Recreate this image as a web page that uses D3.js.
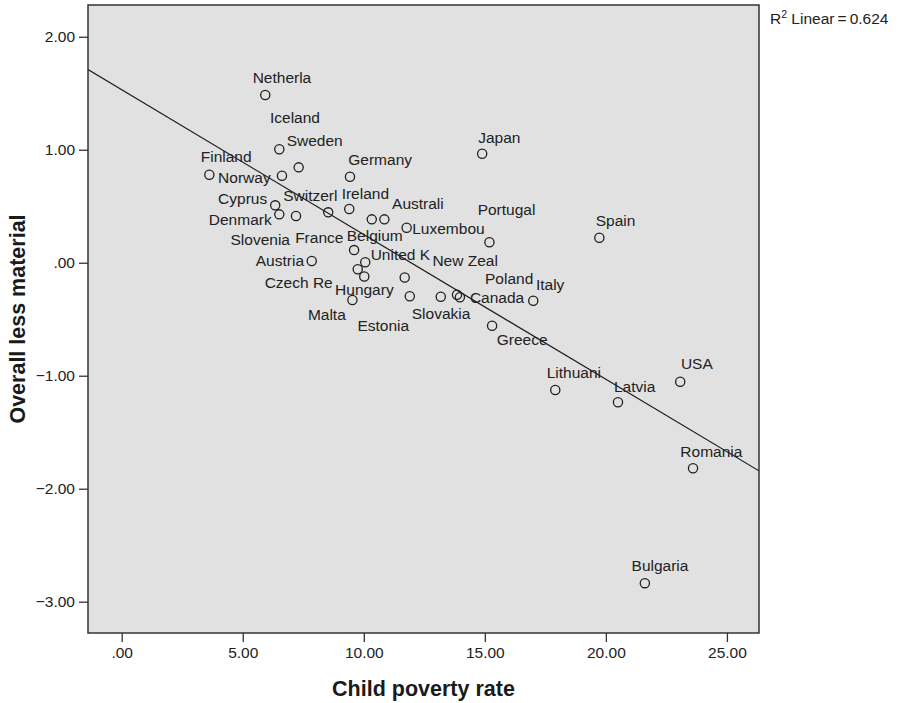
<!DOCTYPE html>
<html>
<head>
<meta charset="utf-8">
<script src="https://cdn.jsdelivr.net/npm/d3@7"></script>
<style>
  html, body { margin: 0; padding: 0; background: #fff; }
  svg { display: block; font-family: "Liberation Sans", Arial, Helvetica, sans-serif; }
</style>
</head>
<body>
<svg id="chart" width="898" height="703"></svg>
<script>
// Country labels (truncated to 8 characters as in the source table)
const countries = [
  "Netherla", "Iceland", "Sweden", "Finland", "Norway", "Germany", "Cyprus",
  "Denmark", "Slovenia", "Switzerl", "Ireland", "Belgium", "Australi", "Luxembou",
  "France", "Austria", "United K", "Czech Re", "Hungary", "New Zeal", "Malta",
  "Estonia", "Slovakia", "Poland", "Canada", "Japan", "Portugal", "Spain",
  "Italy", "Greece", "Lithuani", "Latvia", "USA", "Romania", "Bulgaria"
];
// Child poverty rate (%)
const povertyRate = [
  5.93, 6.51, 7.31, 3.62, 6.62, 9.43, 6.34,
  6.51, 7.20, 8.53, 9.40, 10.33, 10.85, 11.77,
  9.60, 7.85, 10.06, 9.75, 10.02, 11.69, 9.53,
  11.90, 13.18, 13.85, 13.97, 14.89, 15.19, 19.73,
  17.00, 15.30, 17.91, 20.50, 23.07, 23.60, 21.61
];
// Overall less material (standardised score)
const lessMaterial = [
  1.484, 1.004, 0.844, 0.779, 0.770, 0.761, 0.508,
  0.428, 0.413, 0.446, 0.475, 0.384, 0.384, 0.310,
  0.112, 0.015, 0.004, -0.058, -0.122, -0.131, -0.330,
  -0.297, -0.301, -0.283, -0.306, 0.965, 0.181, 0.221,
  -0.337, -0.558, -1.127, -1.235, -1.053, -1.819, -2.836
];
const xTickValues = [0, 5, 10, 15, 20, 25];
const xTickLabels = [".00", "5.00", "10.00", "15.00", "20.00", "25.00"];
const yTickValues = [2, 1, 0, -1, -2, -3];
const yTickLabels = ["2.00", "1.00", ".00", "\u22121.00", "\u22122.00", "\u22123.00"];
const rSquaredText = "0.624";

// Label placement around each marker: [dx, dy, anchor]
const labelLayout = {
  "Netherla": [-12.6, -17.3, "start"], "Iceland": [-9.3, -31.6, "start"],
  "Sweden": [-12, -26.3, "start"], "Finland": [-8.6, -18, "start"],
  "Norway": [-11.3, 2, "end"], "Germany": [-1.7, -16.7, "start"],
  "Cyprus": [-8, -6.6, "end"], "Denmark": [-7.6, 5, "end"],
  "Slovenia": [-6, 24, "end"], "Switzerl": [-45, -16.3, "start"],
  "Ireland": [-7.6, -15, "start"], "Belgium": [-25, 16, "start"],
  "Australi": [7.7, -15.3, "start"], "Luxembou": [5.6, 1.3, "start"],
  "France": [-10.7, -12.3, "end"], "Austria": [-7.7, 0, "end"],
  "United K": [5.4, -7.3, "start"], "Czech Re": [-25, 13.1, "end"],
  "Hungary": [-29.2, 13.5, "start"], "New Zeal": [27.7, -16.5, "start"],
  "Malta": [-6.6, 15, "end"], "Estonia": [-52.4, 29.4, "start"],
  "Slovakia": [-29, 17.3, "start"], "Poland": [28, -16.4, "start"],
  "Canada": [10, 0.4, "start"], "Japan": [-4, -16, "start"],
  "Portugal": [-11.8, -32.3, "start"], "Spain": [-3.6, -17, "start"],
  "Italy": [2.7, -15.8, "start"], "Greece": [4.7, 13.3, "start"],
  "Lithuani": [-8.6, -17, "start"], "Latvia": [-4, -15.6, "start"],
  "USA": [0.7, -18.4, "start"], "Romania": [-12.7, -16.6, "start"],
  "Bulgaria": [-13.3, -18, "start"]
};

const svg = d3.select("#chart");
const margin = { left: 88, top: 5, right: 139, bottom: 70 };
const W = 898, H = 703;
const pw = W - margin.left - margin.right;
const ph = H - margin.top - margin.bottom;

const x = d3.scaleLinear().domain([-1.392, 26.325]).range([0, pw]);
const y = d3.scaleLinear().domain([-3.277, 2.281]).range([ph, 0]);

const g = svg.append("g").attr("transform", `translate(${margin.left},${margin.top})`);

// plot background
g.append("rect").attr("width", pw).attr("height", ph).attr("fill", "#e1e1e1");

svg.append("defs").append("clipPath").attr("id", "plotClip")
  .append("rect").attr("width", pw).attr("height", ph);

// least-squares fit line
const n = povertyRate.length;
const mx = d3.mean(povertyRate), my = d3.mean(lessMaterial);
let sxy = 0, sxx = 0;
for (let i = 0; i < n; i++) {
  sxy += (povertyRate[i] - mx) * (lessMaterial[i] - my);
  sxx += (povertyRate[i] - mx) ** 2;
}
const slope = sxy / sxx;
const intercept = my - slope * mx;
const [x0, x1] = x.domain();
g.append("line")
  .attr("clip-path", "url(#plotClip)")
  .attr("x1", x(x0)).attr("y1", y(intercept + slope * x0))
  .attr("x2", x(x1)).attr("y2", y(intercept + slope * x1))
  .attr("stroke", "#1a1a1a").attr("stroke-width", 1.2);

// points
const pts = countries.map((c, i) => ({ name: c, px: povertyRate[i], py: lessMaterial[i] }));
g.selectAll("circle.pt").data(pts).enter().append("circle")
  .attr("class", "pt")
  .attr("cx", d => x(d.px)).attr("cy", d => y(d.py)).attr("r", 4.6)
  .attr("fill", "none").attr("stroke", "#1f1f1f").attr("stroke-width", 1.3);

// point labels
g.selectAll("text.lbl").data(pts).enter().append("text")
  .attr("class", "lbl")
  .attr("x", d => x(d.px) + labelLayout[d.name][0])
  .attr("y", d => y(d.py) + labelLayout[d.name][1])
  .attr("dy", "0.35em")
  .attr("text-anchor", d => labelLayout[d.name][2])
  .attr("font-size", 15.5).attr("fill", "#222")
  .text(d => d.name);

// frame
g.append("rect").attr("width", pw).attr("height", ph)
  .attr("fill", "none").attr("stroke", "#333").attr("stroke-width", 1.5);

// axes
const xAxis = d3.axisBottom(x).tickValues(xTickValues)
  .tickFormat((d, i) => xTickLabels[i]).tickSize(9).tickPadding(5).tickSizeOuter(0);
const gx = g.append("g").attr("transform", `translate(0,${ph})`).call(xAxis);
gx.select(".domain").remove();
gx.selectAll("line").attr("stroke", "#333").attr("stroke-width", 1.3);
gx.selectAll("text").attr("font-size", 15.5).attr("fill", "#222")
  .attr("font-family", "Liberation Sans, Arial, sans-serif");

const yAxis = d3.axisLeft(y).tickValues(yTickValues)
  .tickFormat((d, i) => yTickLabels[i]).tickSize(9).tickPadding(4).tickSizeOuter(0);
const gy = g.append("g").call(yAxis);
gy.select(".domain").remove();
gy.selectAll("line").attr("stroke", "#333").attr("stroke-width", 1.3);
gy.selectAll("text").attr("font-size", 15.5).attr("fill", "#222")
  .attr("font-family", "Liberation Sans, Arial, sans-serif");

// axis titles
svg.append("text")
  .attr("x", margin.left + pw / 2).attr("y", 696)
  .attr("text-anchor", "middle").attr("font-size", 21.5).attr("font-weight", "bold")
  .attr("fill", "#1a1a1a").text("Child poverty rate");
svg.append("text")
  .attr("transform", `translate(25,${margin.top + ph / 2}) rotate(-90)`)
  .attr("text-anchor", "middle").attr("font-size", 21.5).attr("font-weight", "bold")
  .attr("fill", "#1a1a1a").text("Overall less material");

// fit statistic
const rt = svg.append("text").attr("x", 770).attr("y", 24)
  .attr("font-size", 15.5).attr("fill", "#222");
rt.append("tspan").text("R");
rt.append("tspan").attr("font-size", 10.5).attr("dy", -6.5).text("2");
rt.append("tspan").attr("dy", 6.5).text(" Linear\u2009=\u2009" + rSquaredText);
</script>
</body>
</html>
